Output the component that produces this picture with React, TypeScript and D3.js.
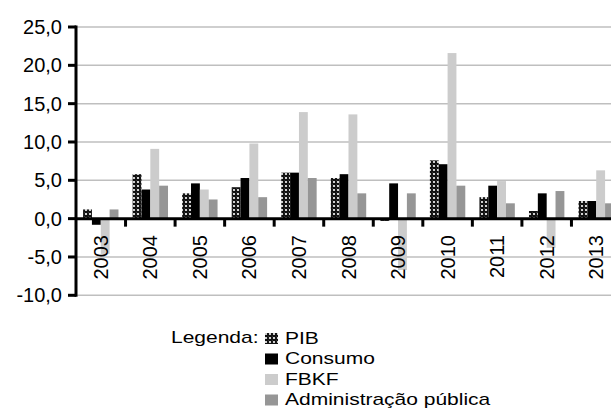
import * as d3 from 'd3';

const years = ['2003', '2004', '2005', '2006', '2007', '2008', '2009', '2010', '2011', '2012', '2013'];
const series = ['PIB', 'Consumo', 'FBKF', 'Administração pública'];
const pib = [1.2, 5.8, 3.3, 4.1, 6.0, 5.3, -0.3, 7.6, 2.8, 1.0, 2.3];
const consumo = [-0.8, 3.8, 4.6, 5.3, 6.0, 5.8, 4.6, 7.1, 4.3, 3.3, 2.3];
const fbkf = [-4.6, 9.1, 3.8, 9.8, 13.9, 13.6, -6.7, 21.6, 4.9, -3.8, 6.3];
const adm = [1.2, 4.3, 2.5, 2.8, 5.3, 3.3, 3.3, 4.3, 2.0, 3.6, 2.0];
const yTicks = [25, 20, 15, 10, 5, 0, -5, -10];

const values = [pib, consumo, fbkf, adm];
const fills = ['url(#pibPat)', '#000000', '#cccccc', '#969696'];

export default function App() {
  const y = d3.scaleLinear().domain([-10, 25]).range([295.3, 27]);
  const x = d3.scaleBand().domain(years).range([76, 621]);
  const x1 = d3.scaleBand().domain(series).range([0, x.bandwidth()]).paddingOuter(0.8);
  const fmt = (v: number) => d3.format('.1f')(v).replace('.', ',').replace('−', '-');

  return (
    <svg width={611} height={408} style={{ position: 'fixed', left: 0, top: 0, background: '#fff' }}
      fontFamily="'Liberation Sans', Arial, sans-serif">
      <defs>
        <pattern id="pibPat" width={4} height={4} patternUnits="userSpaceOnUse">
          <rect width={4} height={4} fill="#111" />
          <circle cx={2} cy={2} r={1.1} fill="#fff" />
          <circle cx={0} cy={0} r={0.6} fill="#888" />
        </pattern>
      </defs>

      {/* gridlines */}
      {yTicks.filter(t => t !== 0).map(t => (
        <line key={t} x1={76} x2={621} y1={y(t)} y2={y(t)} stroke="#bfbfbf" strokeWidth={1.5} />
      ))}

      {/* bars */}
      {series.map((s, si) => (
        <g key={s} fill={fills[si]}>
          {years.map((yr, i) => {
            const v = values[si][i];
            return (
              <rect key={yr} x={(x(yr) ?? 0) + (x1(s) ?? 0)} width={x1.bandwidth()}
                y={Math.min(y(v), y(0))} height={Math.abs(y(v) - y(0))} />
            );
          })}
        </g>
      ))}

      {/* y axis */}
      <line x1={76} x2={76} y1={y(25) - 1.5} y2={y(-10) + 1.5} stroke="#000" strokeWidth={3} />
      {yTicks.map(t => (
        <g key={t}>
          <line x1={68} x2={76} y1={y(t)} y2={y(t)} stroke="#000" strokeWidth={3} />
          <text x={62} y={y(t)} dy="0.35em" textAnchor="end" fontSize={20} fill="#000">{fmt(t)}</text>
        </g>
      ))}

      {/* zero axis and category ticks */}
      <line x1={76} x2={621} y1={y(0)} y2={y(0)} stroke="#000" strokeWidth={3} />
      {years.slice(1).map(yr => (
        <line key={yr} x1={x(yr)} x2={x(yr)} y1={y(0)} y2={y(0) + 8} stroke="#000" strokeWidth={3} />
      ))}
      {years.map(yr => {
        const cx = (x(yr) ?? 0) + x.bandwidth() / 2;
        return (
          <text key={yr} transform={`translate(${cx},235) rotate(-90)`} dy="0.35em" textAnchor="end"
            fontSize={20} fill="#000">{yr}</text>
        );
      })}

      {/* legend */}
      <text x={171} y={343} fontSize={21} transform="translate(0,343) scale(1,0.8) translate(0,-343)">Legenda:</text>
      {series.map((s, i) => {
        const by = 344 + i * 20.5;
        return (
          <g key={s}>
            <rect x={265} y={by - 11} width={13} height={11} fill={fills[i]} />
            <text x={285} y={by} fontSize={21} transform={`translate(0,${by}) scale(1,0.8) translate(0,${-by})`}>{s}</text>
          </g>
        );
      })}
    </svg>
  );
}
